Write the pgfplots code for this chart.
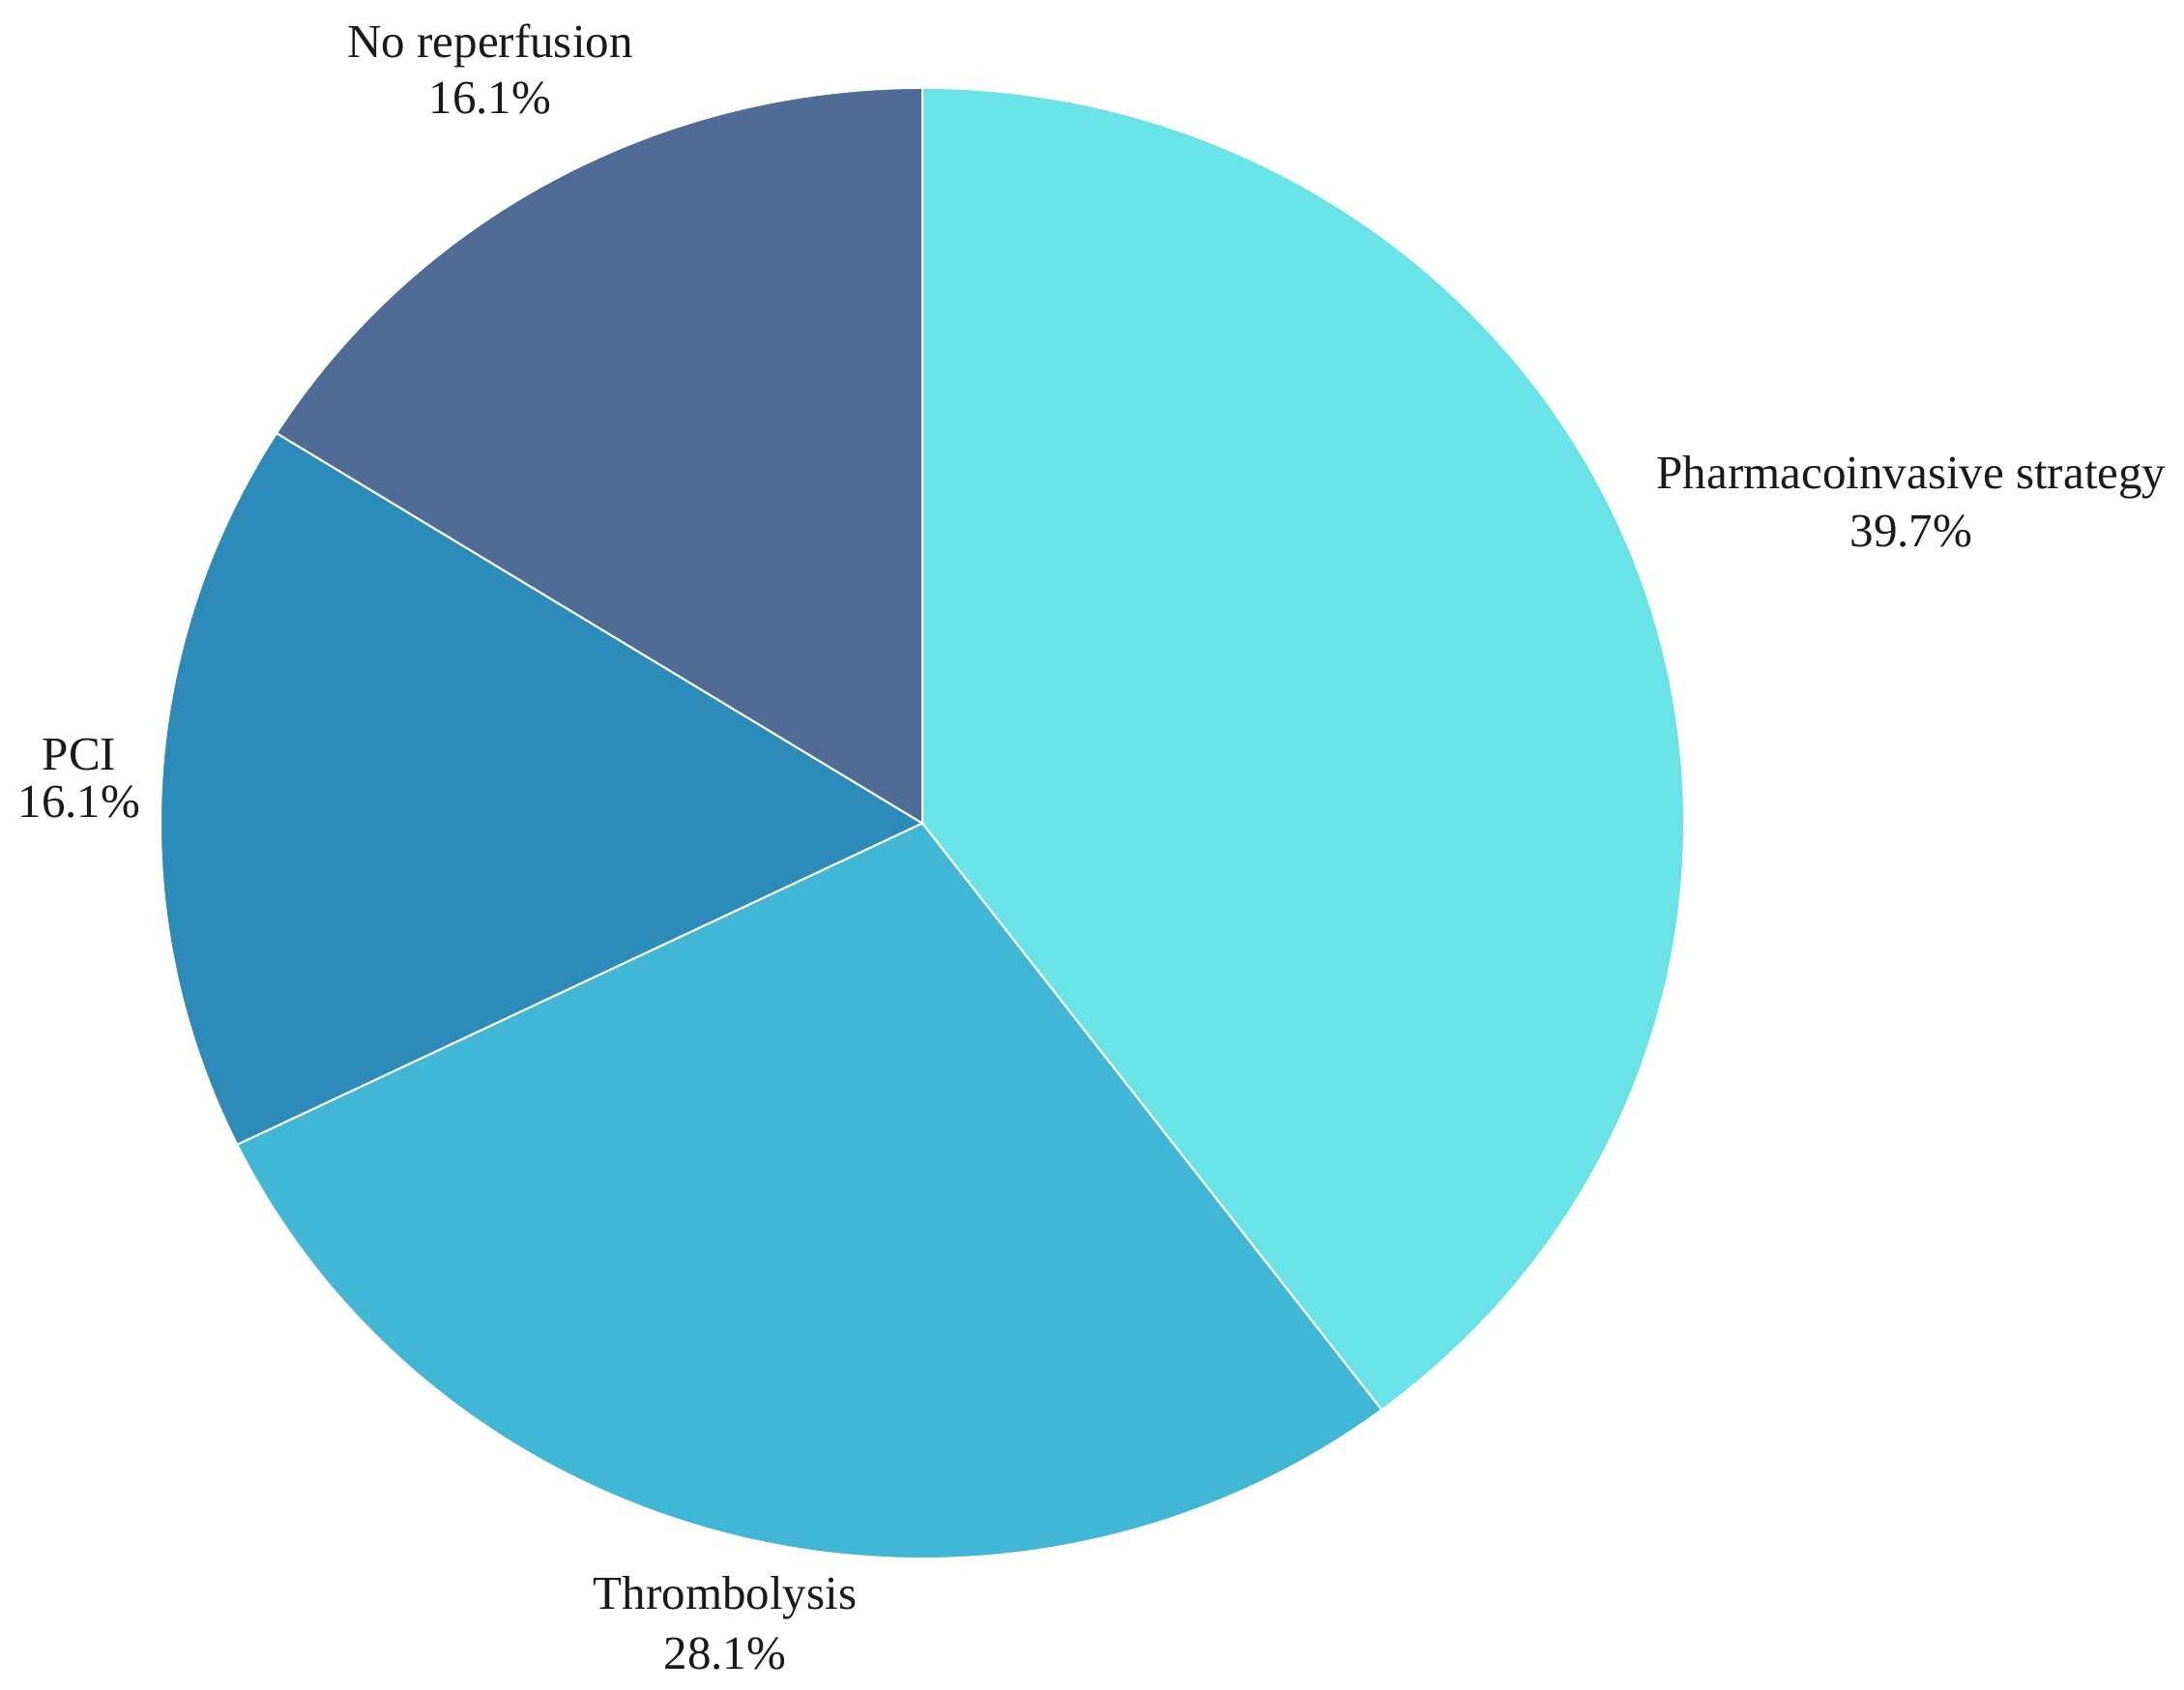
\documentclass[border=0pt]{standalone}
\usepackage{pgfplots}
\pgfplotsset{compat=1.18}
\usepackage{pgfplotstable}
\usepackage{fontspec}
\setmainfont{Liberation Serif}
\definecolor{pieA}{HTML}{6AE3E6}
\definecolor{pieB}{HTML}{42B6D5}
\definecolor{pieC}{HTML}{2D8BBA}
\definecolor{pieD}{HTML}{4E6C96}
\definecolor{labInk}{HTML}{1A1A1A}

% share of patients (%), clockwise from 12 o'clock
\pgfplotstableread{
share
39.7
28.1
16.1
16.1
}\piedata

\begin{document}
\begin{tikzpicture}
% slice boundary angles, from the shares
\pgfmathsetmacro\aA{90}
\pgfplotstablegetelem{0}{share}\of\piedata \pgfmathsetmacro\aB{\aA-3.6*\pgfplotsretval}
\pgfplotstablegetelem{1}{share}\of\piedata \pgfmathsetmacro\aC{\aB-3.6*\pgfplotsretval}
\pgfplotstablegetelem{2}{share}\of\piedata \pgfmathsetmacro\aD{\aC-3.6*\pgfplotsretval}
\pgfplotstablegetelem{3}{share}\of\piedata \pgfmathsetmacro\aE{\aD-3.6*\pgfplotsretval}
\def\cx{954}\def\cy{896.5}
\def\rx{157.6pt}\def\ry{152.1pt}
\begin{axis}[
  x=0.2pt, y=0.2pt,
  xmin=0, xmax=2259, ymin=0, ymax=1748,
  hide axis, clip=false,
]
% keep the whole canvas in the bounding box
\path (axis cs:0,0) rectangle (axis cs:2259,1748);
\fill[pieA, draw=white, line width=0.4pt] (axis cs:\cx,\cy) -- ++(\aA:{\rx} and {\ry})
  arc[start angle=\aA, end angle=\aB, x radius=\rx, y radius=\ry] -- cycle;
\fill[pieB, draw=white, line width=0.4pt] (axis cs:\cx,\cy) -- ++(\aB:{\rx} and {\ry})
  arc[start angle=\aB, end angle=\aC, x radius=\rx, y radius=\ry] -- cycle;
\fill[pieC, draw=white, line width=0.4pt] (axis cs:\cx,\cy) -- ++(\aC:{\rx} and {\ry})
  arc[start angle=\aC, end angle=\aD, x radius=\rx, y radius=\ry] -- cycle;
\fill[pieD, draw=white, line width=0.4pt] (axis cs:\cx,\cy) -- ++(\aD:{\rx} and {\ry})
  arc[start angle=\aD, end angle=\aE, x radius=\rx, y radius=\ry] -- cycle;

\tikzset{lab/.style={anchor=base, inner sep=0pt, text=labInk, font=\fontsize{9.8pt}{12pt}\selectfont}}
\node[lab] at (axis cs:1977,1242) {Pharmacoinvasive strategy};
\node[lab] at (axis cs:1977,1182) {39.7\%};
\node[lab] at (axis cs:750,83) {Thrombolysis};
\node[lab] at (axis cs:750,21) {28.1\%};
\node[lab] at (axis cs:82,951) {PCI};
\node[lab] at (axis cs:82,902) {16.1\%};
\node[lab] at (axis cs:507,1688) {No reperfusion};
\node[lab] at (axis cs:507,1630) {16.1\%};
\end{axis}
\end{tikzpicture}
\end{document}
